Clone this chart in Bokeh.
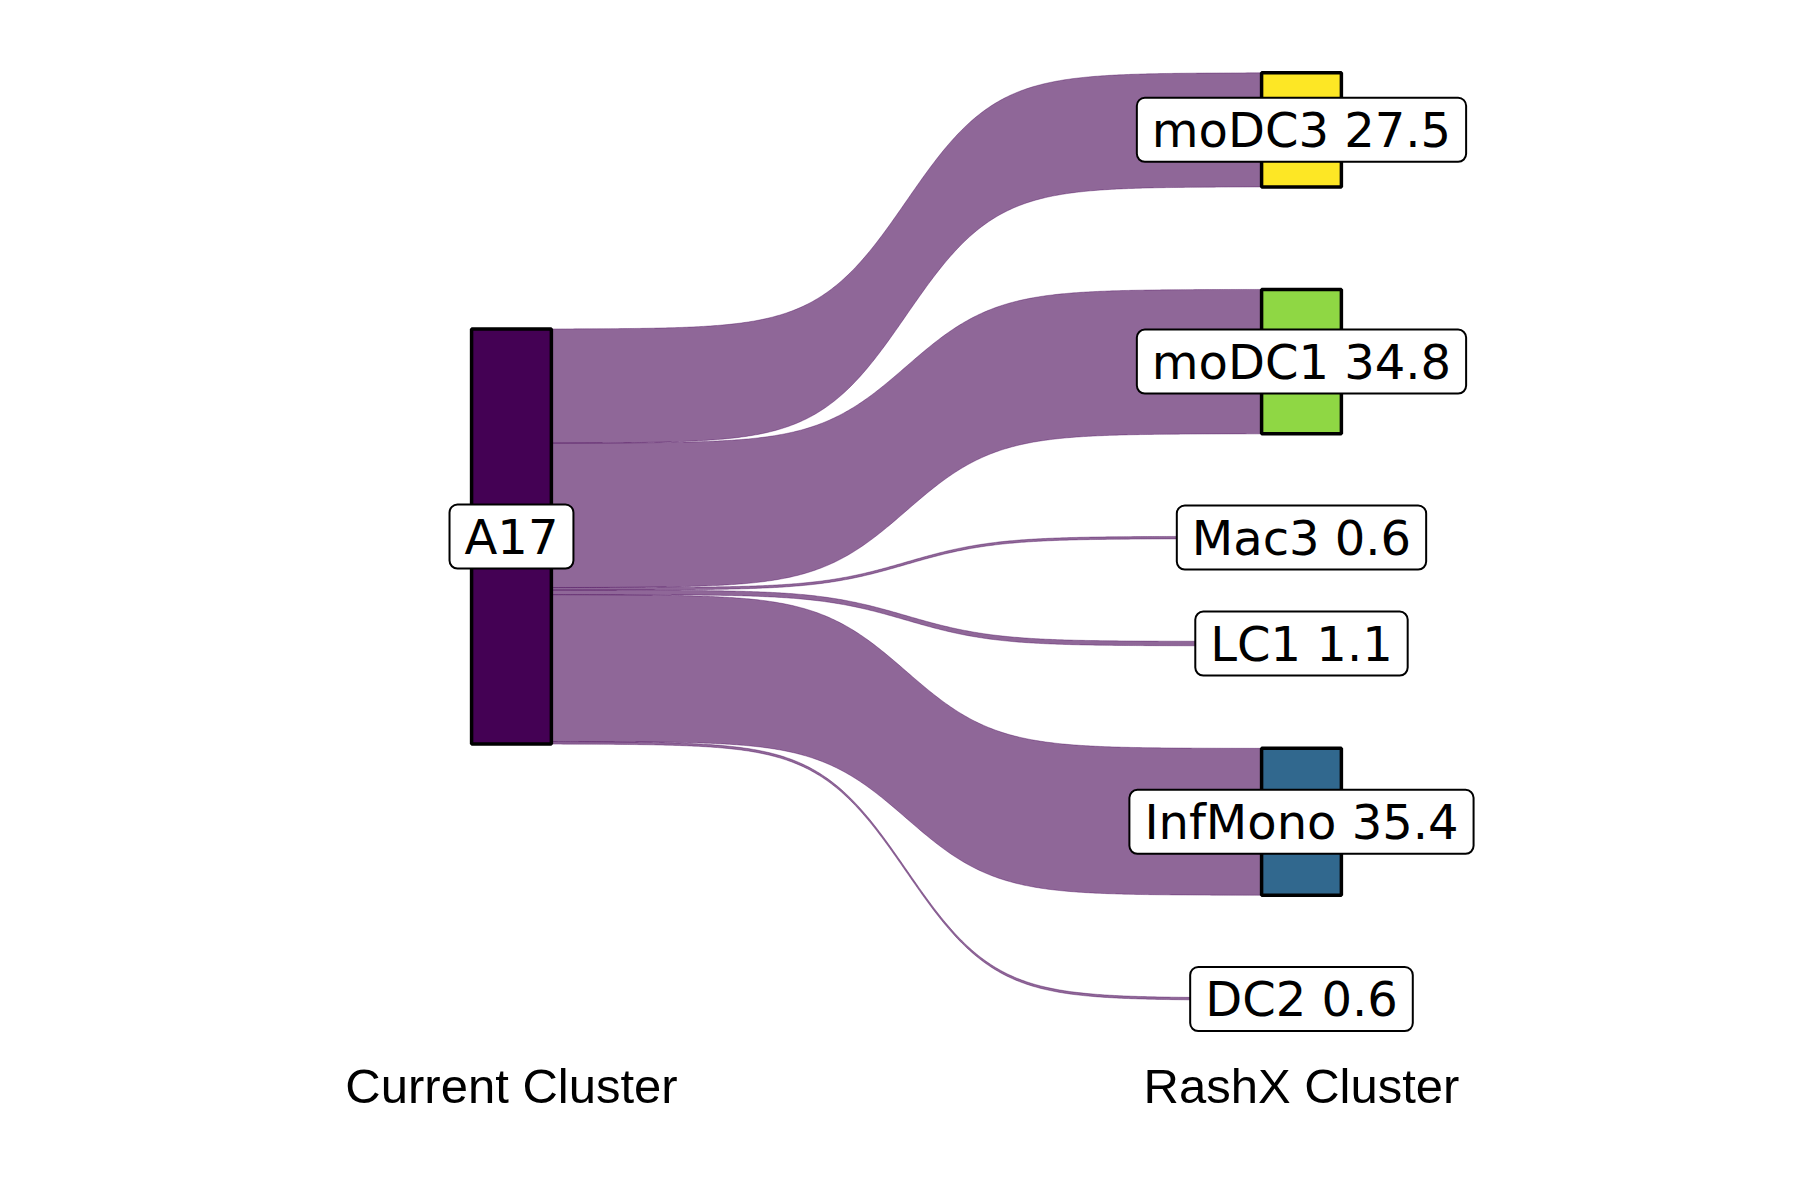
import numpy as np
from bokeh.plotting import figure
from bokeh.models import Range1d, Label
from bokeh.core.properties import value
from bokeh.embed import file_html
from bokeh.resources import INLINE

# ---- data ----
source_node = "A17"
targets = ["moDC3", "moDC1", "Mac3", "LC1", "InfMono", "DC2"]
percent = [27.5, 34.8, 0.6, 1.1, 35.4, 0.6]
axis_labels = ["Current Cluster", "RashX Cluster"]
node_colors = {"A17": "#440154", "DC2": "#443A83", "InfMono": "#31688E",
               "LC1": "#21908C", "Mac3": "#35B779", "moDC1": "#8FD744",
               "moDC3": "#FDE725"}

# ---- layout (style) ----
GAP = 24.7          # space between nodes on the right column (in % units)
NODE_W = 0.101      # node width in x units
FLOW_ALPHA = 0.6
SMOOTH = 8
TITLE_Y = 132.5

p = figure(width=1784, height=1184, output_backend="svg", toolbar_location=None,
           x_range=Range1d(0.3532, 2.6114), y_range=Range1d(156.14, -129.16),
           min_border=0)
p.axis.visible = False
p.grid.visible = False
p.outline_line_color = None
p.background_fill_color = "white"

total = sum(percent)
left_top = -total / 2.0
right_top = -(total + GAP * (len(targets) - 1)) / 2.0

left_y = []
ry = []
cur_l = left_top
cur_r = right_top
for v in percent:
    left_y.append((cur_l, cur_l + v))
    cur_l += v
    ry.append((cur_r, cur_r + v))
    cur_r += v + GAP

def sigmoid(x0, x1, y0, y1, n=300):
    t = np.linspace(-SMOOTH, SMOOTH, n)
    s = np.exp(t) / (np.exp(t) + 1)
    xs = (t + SMOOTH) / (2 * SMOOTH) * (x1 - x0) + x0
    ys = s * (y1 - y0) + y0
    return xs, ys

xa = 1 + NODE_W / 2
xb = 2 - NODE_W / 2
xs_list, ys_list = [], []
for (l0, l1), (r0, r1) in zip(left_y, ry):
    tx, ty = sigmoid(xa, xb, l0, r0)
    bx, by = sigmoid(xa, xb, l1, r1)
    xs_list.append(np.concatenate([tx, bx[::-1]]))
    ys_list.append(np.concatenate([ty, by[::-1]]))

p.patches(xs_list, ys_list, fill_color=node_colors[source_node],
          fill_alpha=FLOW_ALPHA, line_color=node_colors[source_node],
          line_alpha=FLOW_ALPHA, line_width=0.6)

# nodes
p.quad(left=[1 - NODE_W / 2], right=[1 + NODE_W / 2],
       top=[left_top], bottom=[left_top + total],
       fill_color=node_colors[source_node], line_color="black", line_width=3.5)
p.quad(left=[2 - NODE_W / 2] * len(targets), right=[2 + NODE_W / 2] * len(targets),
       top=[a for a, b in ry], bottom=[b for a, b in ry],
       fill_color=[node_colors[t] for t in targets], line_color="black", line_width=3.5)

def add_label(x, y, txt):
    p.add_layout(Label(x=x, y=y, text=txt, text_align="center", text_baseline="middle",
                       text_font="DejaVu Sans", text_font_size="48px", text_color="black",
                       background_fill_color="white", background_fill_alpha=1.0,
                       border_line_color="black", border_line_width=2,
                       border_radius=8, padding=(15, 4)))

add_label(1, left_top + total / 2, source_node)
for t, v, (a, b) in zip(targets, percent, ry):
    add_label(2, (a + b) / 2, f"{t} {v}")

p.text(x=[1, 2], y=[TITLE_Y, TITLE_Y], text=axis_labels, text_align="center",
       text_baseline="alphabetic", text_font=value("Liberation Sans"),
       text_font_size="49px", text_color="black")

open("out.html", "w").write(file_html(p, INLINE))
